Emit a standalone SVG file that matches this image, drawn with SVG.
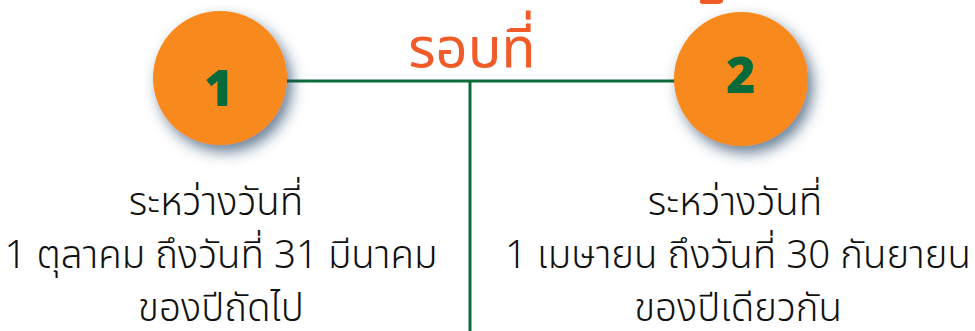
<svg xmlns="http://www.w3.org/2000/svg" width="975" height="331" viewBox="0 0 975 331">
<style>
.body{font-family:"Noto Sans Thai","Noto Sans","DejaVu Sans",sans-serif;font-size:38.5px;fill:#111;text-anchor:middle;font-weight:300}
.num{font-family:"Noto Sans","DejaVu Sans",sans-serif;font-weight:900;font-size:50px;fill:#076a3a;text-anchor:middle}
.title{font-family:"Noto Sans Thai","Noto Sans","DejaVu Sans",sans-serif;font-size:56px;fill:#f15a29;text-anchor:middle;font-weight:400}
.circ{fill:#f8891b;filter:url(#sh)}
.ln{stroke:#0e6b3a;stroke-width:3;fill:none}
</style>
<defs>
<filter id="sh" x="-30%" y="-30%" width="170%" height="170%">
<feDropShadow dx="5" dy="7" stdDeviation="7" flood-color="#1d3d5e" flood-opacity="0.65"/>
</filter>
</defs>
<rect width="975" height="331" fill="#fff"/>
<path d="M700 0 h23 v2 q-2 2 -5 2 h-14 q-4 0 -4 -2z" fill="#f15a29"/>
<g id="connectors">
<line class="ln" x1="286" y1="81" x2="677" y2="81"/>
<line class="ln" x1="470" y1="81" x2="470" y2="331"/>
</g>
<g id="title"><text class="title" x="472" y="67">รอบที่</text></g>
<g id="node1">
<circle class="circ" cx="220" cy="78" r="67"/>
<text class="num" x="219" y="106">1</text>
</g>
<g id="node2">
<circle class="circ" cx="741" cy="79" r="67"/>
<text class="num" x="741" y="93">2</text>
</g>
<g id="text1">
<text class="body" x="216" y="215">ระหว่างวันที่</text>
<text class="body" x="221" y="268">1 ตุลาคม ถึงวันที่ 31 มีนาคม</text>
<text class="body" x="221" y="321">ของปีถัดไป</text>
</g>
<g id="text2">
<text class="body" x="735" y="215">ระหว่างวันที่</text>
<text class="body" x="738" y="268">1 เมษายน ถึงวันที่ 30 กันยายน</text>
<text class="body" x="738" y="321">ของปีเดียวกัน</text>
</g>
</svg>
